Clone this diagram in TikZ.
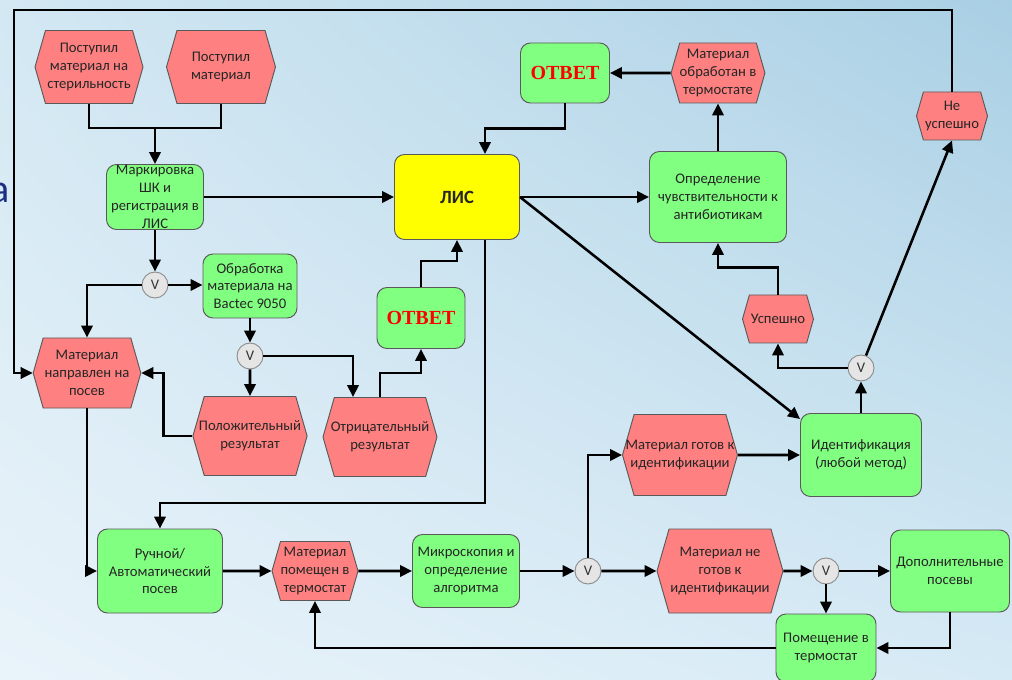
\documentclass[tikz,border=0pt]{standalone}
\usepackage{fontspec}
\setmainfont{Carlito}
\newfontfamily\timesfont{Liberation Serif}
\usetikzlibrary{arrows.meta, shapes.symbols, shadings, calc}
\definecolor{procgreen}{HTML}{80FF80}
\definecolor{eventred}{HTML}{FF8080}
\definecolor{lisyellow}{HTML}{FFFF00}
\definecolor{slideblue}{HTML}{1C2F82}
\definecolor{bgtl}{HTML}{D3E8F3}
\definecolor{bgtr}{HTML}{A9CFE4}
\definecolor{bgbl}{HTML}{E9F3FA}
\definecolor{bgbr}{HTML}{D6EAF5}

\begin{document}
\begin{tikzpicture}[x=0.75pt,y=-0.75pt,>={Triangle[length=9pt,width=8.5pt]},line width=1.9pt,
		font=\fontsize{11}{13.4}\selectfont,
		proc/.style={draw=black!65, line width=0.7pt, fill=procgreen, rounded corners=7.5pt, align=center, inner sep=1pt, text=black!85},
		event/.style={signal, signal to=west and east, signal pointer angle=148, draw=black!65, line width=0.7pt, fill=eventred, align=center, inner sep=1pt, text=black!85},
		vgate/.style={circle, draw=black!45, line width=0.7pt, fill=black!10, minimum size=19.5pt, inner sep=0pt, text=black!80},
		answer/.style={proc, font=\timesfont\bfseries\fontsize{15}{18}\selectfont, text=red}]
			\useasboundingbox (0,0) rectangle (1012,680);
			\shade[upper left=bgtl, upper right=bgtr, lower left=bgbl, lower right=bgbr] (0,0) rectangle (1012,680);
			\node[font=\fontsize{30}{36}\selectfont, text=slideblue, inner sep=0pt] (ttl) at (0,193) {а};

			\node[event, minimum width=81pt, minimum height=54.75pt]    (st)    at (89,67)   {Поступил\\материал на\\стерильность};
			\node[event, minimum width=81.75pt, minimum height=54.75pt] (pm)    at (221,67)  {Поступил\\материал};
			\node[proc, minimum width=72.75pt, minimum height=48.75pt, inner ysep=0pt] (mark) at (155,197) {Маркировка\\ШК и\\регистрация в\\ЛИС};
			\node[proc, fill=lisyellow, minimum width=93.75pt, minimum height=63.75pt, font=\bfseries\fontsize{14}{16}\selectfont] (lis) at (457,197) {ЛИС};
			\node[answer, minimum width=66.75pt, minimum height=45pt]   (otv1)  at (565,73)  {ОТВЕТ};
			\node[event, minimum width=67.5pt, minimum height=45pt, inner sep=0pt] (obr) at (718,73) {Материал\\обработан в\\термостате};
			\node[proc, minimum width=102.75pt, minimum height=68.25pt] (opr)   at (718,197) {Определение\\чувствительности к\\антибиотикам};
			\node[event, minimum width=53.25pt, minimum height=36pt]    (ne)    at (952,116) {Не\\успешно};
			\node[event, minimum width=53.25pt, minimum height=36pt]    (usp)   at (778,319) {Успешно};
			\node[vgate]                                                (v4)    at (861,368) {V};
			\node[proc, minimum width=90.75pt, minimum height=62.25pt]  (ident) at (861,455) {Идентификация\\(любой метод)};
			\node[vgate]                                                (v1)    at (155,285) {V};
			\node[proc, minimum width=70.5pt, minimum height=48pt]      (bact)  at (250,286) {Обработка\\материала на\\Bactec 9050};
			\node[event, minimum width=78pt, minimum height=52.5pt]     (nap)   at (87,373)  {Материал\\направлен на\\посев};
			\node[vgate]                                                (v2)    at (250,356) {V};
			\node[event, minimum width=85.5pt, minimum height=59.25pt, inner xsep=-4pt] (pos) at (250,436) {Положительный\\результат};
			\node[event, minimum width=85.5pt, minimum height=59.25pt, inner xsep=-4pt] (otr) at (380,437) {Отрицательный\\результат};
			\node[answer, minimum width=66pt, minimum height=45.75pt]   (otv2)  at (421,318) {ОТВЕТ};
			\node[proc, minimum width=93.75pt, minimum height=63pt]     (ruch)  at (160,571) {Ручной/\\Автоматический\\посев};
			\node[event, minimum width=64.5pt, minimum height=44.25pt, inner sep=0pt] (term) at (315,571) {Материал\\помещен в\\термостат};
			\node[proc, minimum width=80.25pt, minimum height=54.75pt]  (micro) at (466,571) {Микроскопия и\\определение\\алгоритма};
			\node[vgate]                                                (v3)    at (588,571) {V};
			\node[event, minimum width=86.25pt, minimum height=60.75pt, inner xsep=-7pt] (got) at (680,455) {Материал готов к\\идентификации};
			\node[event, minimum width=93pt, minimum height=63pt]       (neg)   at (720,571) {Материал не\\готов к\\идентификации};
			\node[vgate]                                                (v5)    at (826,571) {V};
			\node[proc, minimum width=89.25pt, minimum height=61.5pt]   (dop)   at (950,571) {Дополнительные\\посевы};
			\node[proc, minimum width=75pt, minimum height=51pt]        (pom)   at (826,648) {Помещение в\\термостат};

			\coordinate (j1) at (155,128);
			\coordinate (tl) at (14,10);

			\draw (st.south) |- (j1) -| (pm.south);
			\draw[->] (j1) -- (mark.north);
			\draw[->] (mark) -- (lis);
			\draw[->] (obr) -- (otv1);
			\draw[->] (otv1.south) -- ++(0,25) -| ($(lis.north)+(28,0)$);
			\draw[->] (lis) -- (opr);
			\draw[->] (opr) -- (obr);
			\draw[->] (lis.east) -- ($(ident.north west)+(0,6)$);
			\draw[->] (v4) -- (ne.south);
			\draw[->] (v4.west) -| (usp.south);
			\draw[->] (usp.north) -- ++(0,-27) -| (opr.south);
			\draw[->] (ident) -- (v4);
			\draw[->] (ne.north) |- (tl) |- (nap.west);
			\draw[->] (mark) -- (v1);
			\draw[->] (v1) -- (v1 -| bact.west);
			\draw[->] (v1.west) -| (nap.north);
			\draw[->] (bact) -- (v2);
			\draw[->] (v2) -- (pos);
			\draw[->] (v2.east) -| ($(otr.north)+(-27,0)$);
			\draw[->] (pos.west) -- ++(-29,0) |- (nap.east);
			\draw[->] (otr.north) -- ++(0,-24) -| (otv2.south);
			\draw[->] (otv2.north) -- ++(0,-26) -| (lis.south);
			\draw[->] ($(lis.south)+(28,0)$) -- ++(0,263) -| (ruch.north);
			\draw[->] (nap.south) |- (ruch.west);
			\draw[->] (ruch) -- (term);
			\draw[->] (term) -- (micro);
			\draw[->] (micro) -- (v3);
			\draw[->] (v3.north) |- (got.west);
			\draw[->] (got) -- (ident);
			\draw[->] (v3) -- (neg);
			\draw[->] (neg) -- (v5);
			\draw[->] (v5) -- (dop);
			\draw[->] (v5) -- (pom);
			\draw[->] (dop.south) |- (pom.east);
			\draw[->] (pom.west) -| (term.south);
		\end{tikzpicture}
\end{document}
